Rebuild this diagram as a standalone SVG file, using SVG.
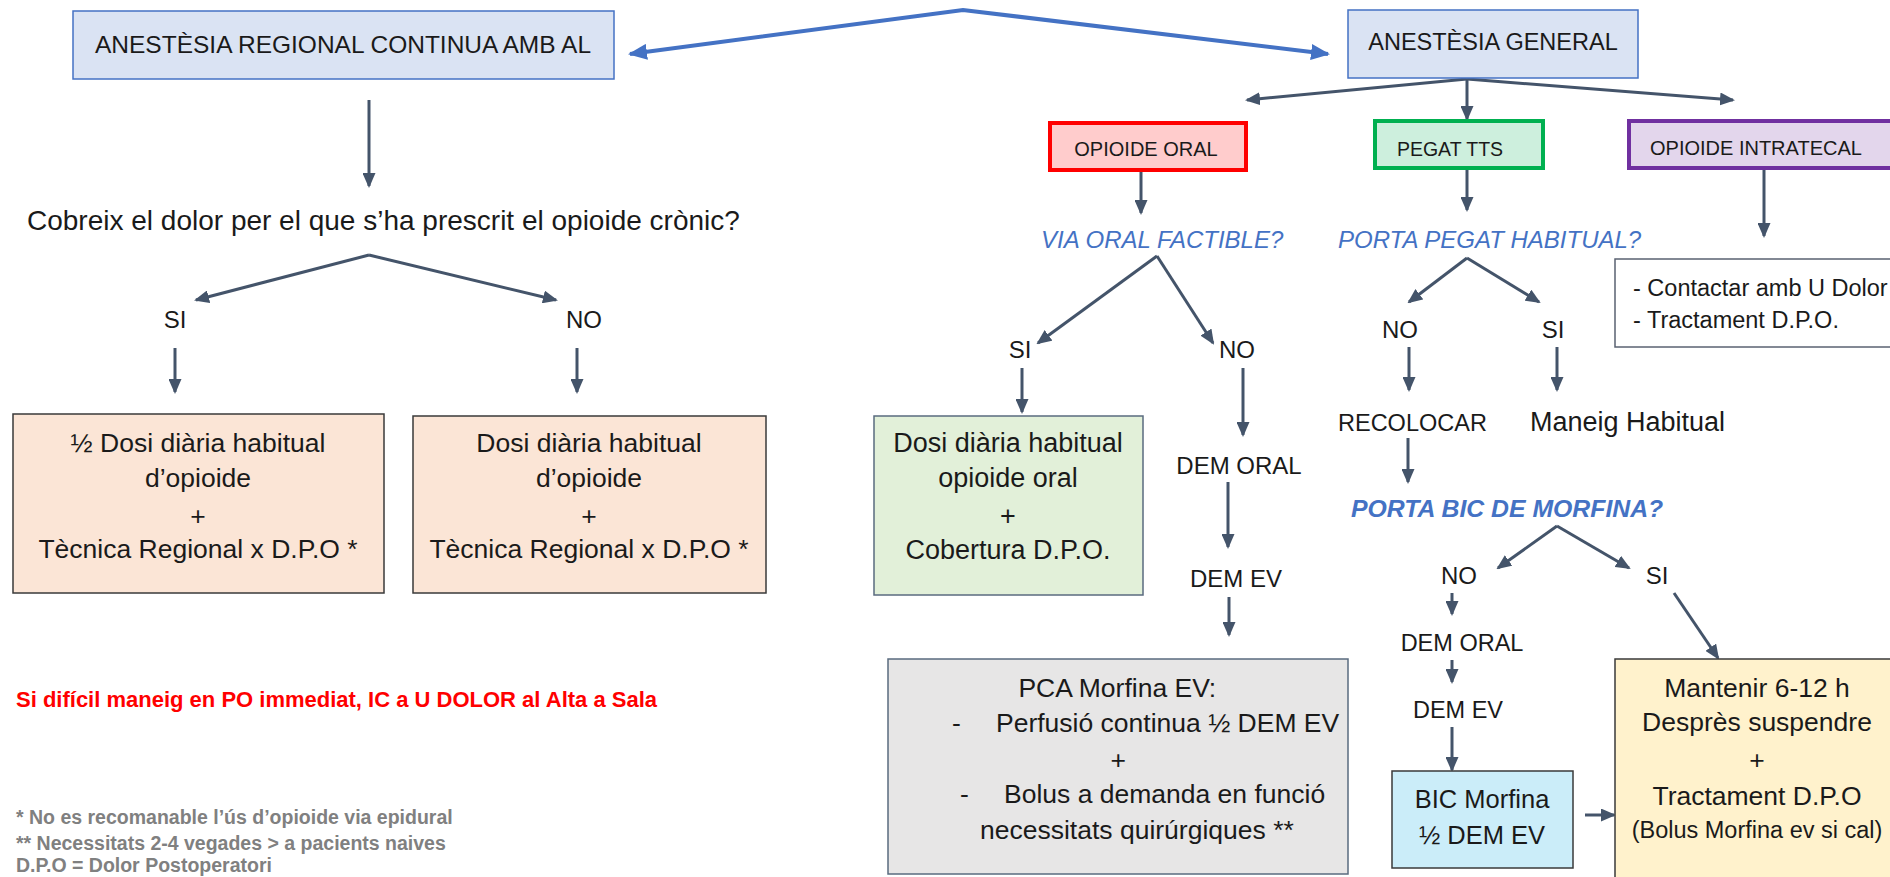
<svg xmlns="http://www.w3.org/2000/svg" width="1890" height="877" viewBox="0 0 1890 877">
<style>
text{font-family:"Liberation Sans",Arial,sans-serif;fill:#1a1a1a}
.c{text-anchor:middle}
.q{fill:#4472C4;font-style:italic;font-size:24px}
.qb{fill:#4472C4;font-style:italic;font-weight:bold;font-size:24.8px}
.g{fill:none;stroke:#44546A;stroke-width:3;marker-end:url(#ag)}
.b{fill:none;stroke:#4472C4;stroke-width:4;marker-start:url(#ab);marker-end:url(#ab)}
.bx{stroke:#3a3a3a;stroke-width:1.5}
.fn{fill:#808080;font-weight:bold;font-size:19.5px}
</style>
<defs>
<marker id="ag" markerUnits="userSpaceOnUse" markerWidth="15" markerHeight="13" refX="13" refY="6.5" orient="auto"><path d="M0,0 L15,6.5 L0,13 z" fill="#44546A"/></marker>
<marker id="ab" markerUnits="userSpaceOnUse" markerWidth="19" markerHeight="16" refX="17" refY="8" orient="auto-start-reverse"><path d="M0,0 L19,8 L0,16 z" fill="#4472C4"/></marker>
</defs>

<g id="connectors">
<path class="b" d="M630,54 L963,10 L1328,54"/>
<path class="g" d="M369,100 L369,186"/>
<path class="g" d="M369,255 L196,300"/>
<path class="g" d="M369,255 L556,300"/>
<path class="g" d="M175,348 L175,392"/>
<path class="g" d="M577,348 L577,392"/>
<path class="g" d="M1467,79 L1247,100"/>
<path class="g" d="M1467,79 L1467,119"/>
<path class="g" d="M1467,79 L1733,100"/>
<path class="g" d="M1141,170 L1141,213"/>
<path class="g" d="M1157,256 L1038,343"/>
<path class="g" d="M1157,256 L1213,343"/>
<path class="g" d="M1022,368 L1022,412"/>
<path class="g" d="M1243,368 L1243,435"/>
<path class="g" d="M1228,482 L1228,547"/>
<path class="g" d="M1229,597 L1229,635"/>
<path class="g" d="M1467,168 L1467,210"/>
<path class="g" d="M1467,258 L1409,302"/>
<path class="g" d="M1467,258 L1539,302"/>
<path class="g" d="M1409,347 L1409,390"/>
<path class="g" d="M1557,347 L1557,390"/>
<path class="g" d="M1408,438 L1408,482"/>
<path class="g" d="M1557,526 L1498,568"/>
<path class="g" d="M1557,526 L1629,568"/>
<path class="g" d="M1452,593 L1452,614"/>
<path class="g" d="M1452,660 L1452,682"/>
<path class="g" d="M1452,727 L1452,770"/>
<path class="g" d="M1585,815 L1614,815"/>
<path class="g" d="M1674,593 L1718,658"/>
<path class="g" d="M1764,168 L1764,236"/>
</g>

<g id="n-regional">
<rect x="73" y="11" width="541" height="68" fill="#DAE3F3" stroke="#4472C4" stroke-width="1.5"/>
<text class="c" x="343" y="53" font-size="24.5">ANESTÈSIA REGIONAL CONTINUA AMB AL</text>
</g>
<g id="n-general">
<rect x="1348" y="10" width="290" height="68" fill="#DAE3F3" stroke="#4472C4" stroke-width="1.5"/>
<text class="c" x="1493" y="50" font-size="23.5">ANESTÈSIA GENERAL</text>
</g>

<g id="n-question">
<text x="27" y="230" font-size="28">Cobreix el dolor per el que s’ha prescrit el opioide crònic?</text>
</g>
<g id="n-si-left"><text class="c" x="175" y="328" font-size="24">SI</text></g>
<g id="n-no-left"><text class="c" x="584" y="328" font-size="24">NO</text></g>

<g id="n-box1">
<rect class="bx" x="13" y="414" width="371" height="179" fill="#FBE5D6"/>
<text class="c" font-size="26.5"><tspan x="198" y="452">½ Dosi diària habitual</tspan><tspan x="198" y="487">d’opioide</tspan><tspan x="198" y="525">+</tspan><tspan x="198" y="558">Tècnica Regional x D.P.O *</tspan></text>
</g>
<g id="n-box2">
<rect class="bx" x="413" y="416" width="353" height="177" fill="#FBE5D6"/>
<text class="c" font-size="26.5"><tspan x="589" y="452">Dosi diària habitual</tspan><tspan x="589" y="487">d’opioide</tspan><tspan x="589" y="525">+</tspan><tspan x="589" y="558">Tècnica Regional x D.P.O *</tspan></text>
</g>

<g id="n-note">
<text x="16" y="707" font-size="22" font-weight="bold" style="fill:#FF0000">Si difícil maneig en PO immediat, IC a U DOLOR al Alta a Sala</text>
</g>
<g id="n-footnotes">
<text class="fn" x="16" y="824">* No es recomanable l’ús d’opioide via epidural</text>
<text class="fn" x="16" y="850">** Necessitats 2-4 vegades &gt; a pacients naives</text>
<text class="fn" x="16" y="872">D.P.O = Dolor Postoperatori</text>
</g>

<g id="n-opioide-oral">
<rect x="1050" y="123" width="196" height="47" fill="#FFCCCC" stroke="#FF0000" stroke-width="4"/>
<text class="c" x="1146" y="156" font-size="20">OPIOIDE ORAL</text>
</g>
<g id="n-pegat">
<rect x="1375" y="121" width="168" height="47" fill="#CDEFDD" stroke="#00B050" stroke-width="4"/>
<text class="c" x="1450" y="156" font-size="19.5">PEGAT TTS</text>
</g>
<g id="n-intratecal">
<rect x="1629" y="121" width="280" height="47" fill="#E3D6EC" stroke="#7030A0" stroke-width="4"/>
<text x="1650" y="155" font-size="20">OPIOIDE INTRATECAL</text>
</g>

<g id="n-via-oral"><text class="q" x="1041" y="248">VIA ORAL FACTIBLE?</text></g>
<g id="n-porta-pegat"><text class="q" x="1338" y="248">PORTA PEGAT HABITUAL?</text></g>

<g id="n-contact">
<rect x="1615" y="259" width="290" height="88" fill="#FFFFFF" stroke="#5A6272" stroke-width="1.5"/>
<text font-size="23.5"><tspan x="1633" y="296">- Contactar amb U Dolor</tspan><tspan x="1633" y="328">- Tractament D.P.O.</tspan></text>
</g>

<g id="n-si-mid"><text class="c" x="1020" y="358" font-size="24">SI</text></g>
<g id="n-no-mid"><text class="c" x="1237" y="358" font-size="24">NO</text></g>

<g id="n-green">
<rect x="874" y="416" width="269" height="179" fill="#E2F0D9" stroke="#5A6B7F" stroke-width="1.5"/>
<text class="c" font-size="27"><tspan x="1008" y="452">Dosi diària habitual</tspan><tspan x="1008" y="487">opioide oral</tspan><tspan x="1008" y="525">+</tspan><tspan x="1008" y="559">Cobertura D.P.O.</tspan></text>
</g>

<g id="n-dem-oral-1"><text class="c" x="1239" y="474" font-size="24">DEM ORAL</text></g>
<g id="n-dem-ev-1"><text class="c" x="1236" y="587" font-size="24">DEM EV</text></g>

<g id="n-pca">
<rect x="888" y="659" width="460" height="215" fill="#E7E6E6" stroke="#5A6B7F" stroke-width="1.5"/>
<text font-size="26.5">
<tspan class="c" x="1121" y="697">PCA Morfina EV:</tspan>
<tspan x="952" y="732">-</tspan><tspan x="996" y="732">Perfusió continua ½ DEM EV</tspan>
<tspan class="c" x="1122" y="769">+</tspan>
<tspan x="960" y="803">-</tspan><tspan x="1004" y="803">Bolus a demanda en funció</tspan>
<tspan x="980" y="839">necessitats quirúrgiques **</tspan>
</text>
</g>

<g id="n-si-pegat"><text class="c" x="1553" y="338" font-size="24">SI</text></g>
<g id="n-no-pegat"><text class="c" x="1400" y="338" font-size="24">NO</text></g>
<g id="n-recolocar"><text x="1338" y="431" font-size="23.5">RECOLOCAR</text></g>
<g id="n-maneig"><text x="1530" y="431" font-size="27">Maneig Habitual</text></g>

<g id="n-porta-bic"><text class="qb" x="1351" y="517">PORTA BIC DE MORFINA?</text></g>
<g id="n-no-bic"><text class="c" x="1459" y="584" font-size="24">NO</text></g>
<g id="n-si-bic"><text class="c" x="1657" y="584" font-size="24">SI</text></g>
<g id="n-dem-oral-2"><text class="c" x="1462" y="651" font-size="23.5">DEM ORAL</text></g>
<g id="n-dem-ev-2"><text class="c" x="1458" y="718" font-size="23.5">DEM EV</text></g>

<g id="n-bic">
<rect class="bx" x="1392" y="771" width="181" height="97" fill="#CBEDF9"/>
<text class="c" font-size="25.5"><tspan x="1482" y="808">BIC Morfina</tspan><tspan x="1482" y="844">½ DEM EV</tspan></text>
</g>

<g id="n-yellow">
<rect class="bx" x="1615" y="659" width="290" height="240" fill="#FFF2CC"/>
<text class="c" font-size="26.5"><tspan x="1757" y="697">Mantenir 6-12 h</tspan><tspan x="1757" y="731">Desprès suspendre</tspan><tspan x="1757" y="769">+</tspan><tspan x="1757" y="805">Tractament D.P.O</tspan></text>
<text class="c" x="1757" y="838" font-size="23.5">(Bolus Morfina ev si cal)</text>
</g>
</svg>
